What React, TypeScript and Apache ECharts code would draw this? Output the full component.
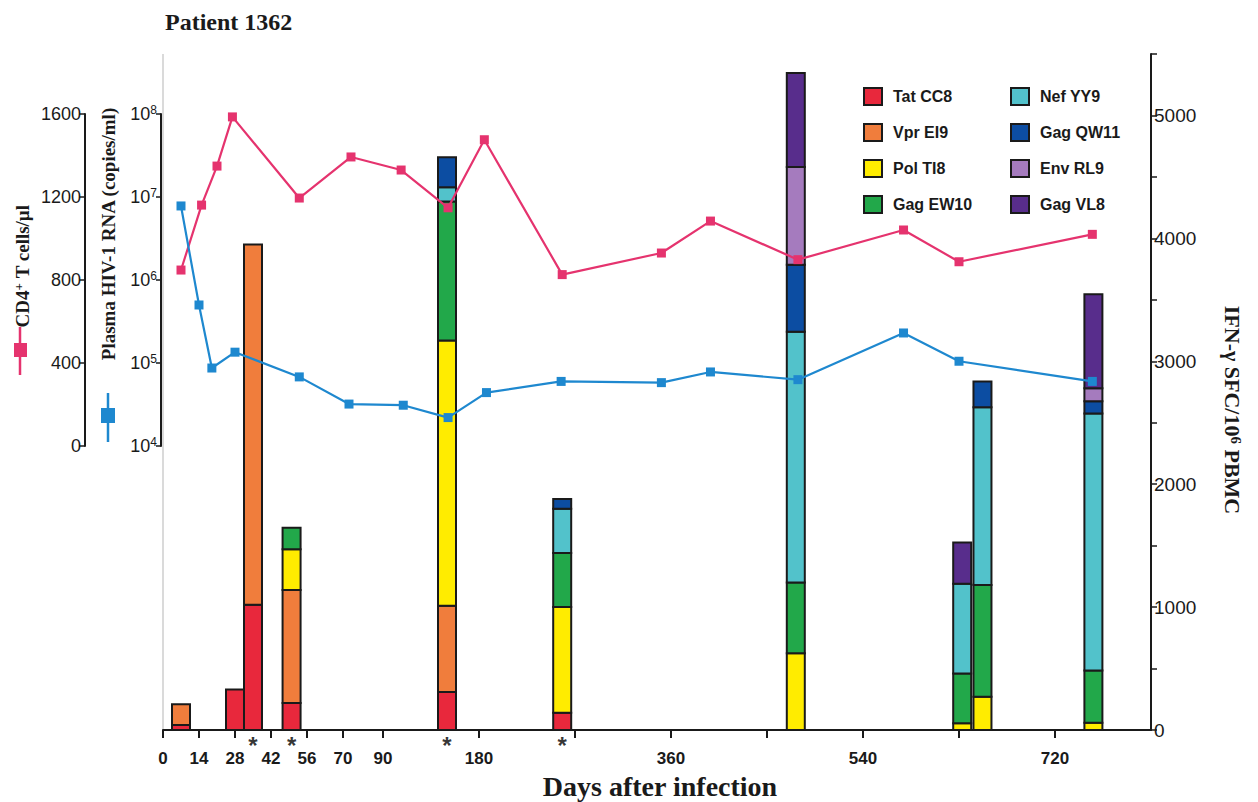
import React, { useEffect, useRef } from 'react';
import * as echarts from 'echarts';

// ---------- data ----------
const barDays = [7, 28, 35, 50, 150, 258, 477, 633, 652, 756];
const tatCC8 = [40, 330, 1020, 220, 310, 140, 0, 0, 0, 0];
const vprEI9 = [170, 0, 2930, 920, 700, 0, 0, 0, 0, 0];
const polTI8 = [0, 0, 0, 330, 2160, 860, 625, 55, 270, 60];
const gagEW10 = [0, 0, 0, 175, 1130, 440, 575, 405, 910, 425];
const nefYY9 = [0, 0, 0, 0, 115, 360, 2040, 730, 1445, 2090];
const gagQW11 = [0, 0, 0, 0, 245, 80, 545, 0, 210, 100];
const envRL9 = [0, 0, 0, 0, 0, 0, 795, 0, 0, 105];
const gagVL8 = [0, 0, 0, 0, 0, 0, 765, 335, 0, 765];

const epitopeNames = ['Tat CC8', 'Vpr EI9', 'Pol TI8', 'Gag EW10', 'Nef YY9', 'Gag QW11', 'Env RL9', 'Gag VL8'];
const epitopeValues = [tatCC8, vprEI9, polTI8, gagEW10, nefYY9, gagQW11, envRL9, gagVL8];
const epitopeColors = ['#E8283C', '#F07D3C', '#FFEC00', '#22A84A', '#52C2CB', '#0C4DA2', '#A57BBE', '#582D8C'];

const cd4Days = [7, 15, 21, 27, 53, 74, 107, 151, 185, 258, 351, 397, 479, 578, 630, 755];
const cd4Values = [848, 1161, 1349, 1586, 1195, 1393, 1330, 1148, 1476, 826, 930, 1084, 898, 1041, 888, 1020];

const rnaDays = [7, 14, 19, 28, 53, 73, 109, 151, 187, 257, 351, 397, 479, 578, 630, 755];
const rnaValues = [7.8e6, 5.0e5, 8.7e4, 1.35e5, 6.8e4, 3.2e4, 3.1e4, 2.2e4, 4.4e4, 6.0e4, 5.8e4, 7.8e4, 6.3e4, 2.3e5, 1.05e5, 6.0e4];

const xTickDays = [0, 14, 28, 42, 56, 70, 90, 180, 270, 360, 450, 540, 630, 720];
const xLabelDays = [0, 14, 28, 42, 56, 70, 90, 180, 360, 540, 720];
const asteriskDays = [35, 50, 150, 258];

// broken (piecewise linear) day axis
const AXIS_KNOT_DAYS = [0, 70, 90, 810];
const AXIS_KNOT_POS = [0, 180, 220, 988];
function dayToPos(d: number): number {
  for (let i = 0; i < AXIS_KNOT_DAYS.length - 1; i++) {
    const a = AXIS_KNOT_DAYS[i], b = AXIS_KNOT_DAYS[i + 1];
    if (d <= b || i === AXIS_KNOT_DAYS.length - 2) {
      return AXIS_KNOT_POS[i] + ((d - a) / (b - a)) * (AXIS_KNOT_POS[i + 1] - AXIS_KNOT_POS[i]);
    }
  }
  return 0;
}

const SANS = '"Liberation Sans", Arial, sans-serif';
const SERIF = '"Liberation Serif", "Times New Roman", serif';
const INK = '#1a1a1a';
const PINK = '#E5336E';
const BLUE = '#1E88CF';

export default function App() {
  const ref = useRef<HTMLDivElement>(null);

  useEffect(() => {
    if (!ref.current) return;
    const chart = echarts.init(ref.current, undefined, { renderer: 'svg' });

    // stacked segments
    const cumulative = barDays.map(() => 0);
    const barSeries = epitopeNames.map((name, k) => {
      const data: number[][] = [];
      epitopeValues[k].forEach((v, i) => {
        if (v > 0) {
          data.push([dayToPos(barDays[i]), cumulative[i], cumulative[i] + v]);
          cumulative[i] += v;
        }
      });
      return {
        name,
        type: 'custom',
        coordinateSystem: 'cartesian2d',
        xAxisIndex: 0,
        yAxisIndex: 0,
        itemStyle: { color: epitopeColors[k] },
        encode: { x: 0, y: [1, 2] },
        data,
        z: 2,
        renderItem: (params: any, api: any) => {
          const x = api.value(0);
          const pb = api.coord([x, api.value(1)]);
          const pt = api.coord([x, api.value(2)]);
          return {
            type: 'rect',
            shape: { x: pb[0] - 9, y: pt[1], width: 18, height: pb[1] - pt[1] },
            style: { fill: api.visual('color'), stroke: INK, lineWidth: 2 },
          };
        },
      };
    });

    const axisLineStyle = { color: INK, width: 2 };
    const legendCommon = {
      orient: 'vertical',
      top: 87,
      itemWidth: 18,
      itemHeight: 17,
      itemGap: 17,
      padding: 0,
      icon: 'rect',
      selectedMode: false,
      itemStyle: { borderColor: INK, borderWidth: 2 },
      textStyle: { fontFamily: SANS, fontWeight: 'bold', fontSize: 16, color: INK, padding: [0, 0, 0, 6] },
    };

    const option: any = {
      animation: false,
      backgroundColor: '#ffffff',
      grid: [
        { left: 163, right: 107, top: 54, bottom: 72 },
        { left: 163, right: 107, top: 114, bottom: 356 },
      ],
      xAxis: [
        {
          gridIndex: 0,
          type: 'value',
          min: 0,
          max: 988,
          splitLine: { show: false },
          axisLine: { show: true, onZero: false, lineStyle: axisLineStyle },
          axisTick: { show: true, length: 8, lineStyle: { color: INK, width: 2 }, customValues: xTickDays.map(dayToPos) },
          axisLabel: {
            customValues: xLabelDays.map(dayToPos),
            margin: 20,
            fontFamily: SANS,
            fontWeight: 'bold',
            fontSize: 17,
            color: INK,
            formatter: (v: number) => {
              const d = xLabelDays.find((dd) => Math.abs(dayToPos(dd) - v) < 0.01);
              return d === undefined ? '' : String(d);
            },
          },
        },
        { gridIndex: 1, type: 'value', min: 0, max: 988, show: false },
      ],
      yAxis: [
        {
          gridIndex: 0,
          type: 'value',
          position: 'right',
          min: 0,
          max: 5500,
          interval: 500,
          splitLine: { show: false },
          axisLine: { show: true, onZero: false, lineStyle: axisLineStyle },
          axisTick: { show: true, length: 6, lineStyle: { color: INK, width: 1.5 } },
          axisLabel: {
            margin: 3,
            fontFamily: SANS,
            fontSize: 19,
            color: INK,
            formatter: (v: number) => (v % 1000 === 0 ? String(v) : ''),
          },
        },
        {
          gridIndex: 1,
          type: 'value',
          position: 'left',
          offset: 78,
          min: 0,
          max: 1600,
          interval: 400,
          splitLine: { show: false },
          axisLine: { show: true, onZero: false, lineStyle: axisLineStyle },
          axisTick: { show: true, length: 6, lineStyle: { color: INK, width: 1.5 } },
          axisLabel: { margin: 4, fontFamily: SANS, fontSize: 18, color: INK, formatter: (v: number) => String(v) },
        },
        {
          gridIndex: 1,
          type: 'log',
          logBase: 10,
          position: 'left',
          offset: 2,
          min: 1e4,
          max: 1e8,
          splitNumber: 4,
          splitLine: { show: false },
          minorTick: { show: false },
          axisLine: { show: true, onZero: false, lineStyle: axisLineStyle },
          axisTick: { show: true, length: 5, lineStyle: { color: INK, width: 1.5 } },
          axisLabel: {
            margin: 4,
            fontFamily: SANS,
            fontSize: 18,
            color: INK,
            formatter: (v: number) => '10{sup|' + Math.round(Math.log10(v)) + '}',
            rich: { sup: { fontSize: 12, fontFamily: SANS, color: INK, verticalAlign: 'top', padding: [0, 0, 8, 0] } },
          },
        },
      ],
      legend: [
        { ...legendCommon, data: epitopeNames.slice(0, 4), left: 863 },
        { ...legendCommon, data: epitopeNames.slice(4), left: 1010 },
      ],
      series: [
        ...barSeries,
        {
          name: 'CD4',
          type: 'line',
          xAxisIndex: 1,
          yAxisIndex: 1,
          data: cd4Days.map((d, i) => [dayToPos(d), cd4Values[i]]),
          symbol: 'rect',
          symbolSize: 9,
          clip: false,
          color: PINK,
          lineStyle: { width: 2.2, color: PINK },
          itemStyle: { color: PINK },
          z: 10,
        },
        {
          name: 'RNA',
          type: 'line',
          xAxisIndex: 1,
          yAxisIndex: 2,
          data: rnaDays.map((d, i) => [dayToPos(d), rnaValues[i]]),
          symbol: 'rect',
          symbolSize: 9,
          clip: false,
          color: BLUE,
          lineStyle: { width: 2.2, color: BLUE },
          itemStyle: { color: BLUE },
          z: 10,
        },
        {
          name: 'asterisks',
          type: 'scatter',
          xAxisIndex: 0,
          yAxisIndex: 0,
          data: asteriskDays.map((d) => [dayToPos(d), 0]),
          symbol: 'rect',
          symbolSize: 1,
          itemStyle: { color: 'rgba(0,0,0,0)' },
          label: {
            show: true,
            position: 'bottom',
            distance: 3,
            formatter: '*',
            fontFamily: SANS,
            fontWeight: 'bold',
            fontSize: 24,
            color: '#000',
          },
          z: 3,
        },
      ],
      graphic: [
        { type: 'line', shape: { x1: 163, y1: 54, x2: 163, y2: 730 }, style: { stroke: '#b5b5b5', lineWidth: 1 }, z: -1 },
        {
          type: 'text',
          x: 165,
          y: 22,
          style: { text: 'Patient 1362', fontFamily: SERIF, fontWeight: 'bold', fontSize: 24, fill: INK, textAlign: 'left', textVerticalAlign: 'middle' },
        },
        {
          type: 'text',
          x: 660,
          y: 786,
          style: { text: 'Days after infection', fontFamily: SERIF, fontWeight: 'bold', fontSize: 28, fill: INK, textAlign: 'center', textVerticalAlign: 'middle' },
        },
        {
          type: 'text',
          x: 1232,
          y: 410,
          rotation: -Math.PI / 2,
          style: {
            text: 'IFN-γ SFC/10{sup|6} PBMC',
            fontFamily: SERIF,
            fontWeight: 'bold',
            fontSize: 22,
            fill: INK,
            textAlign: 'center',
            textVerticalAlign: 'middle',
            rich: { sup: { fontFamily: SERIF, fontWeight: 'bold', fontSize: 15, fill: INK, verticalAlign: 'top', padding: [0, 0, 8, 0] } },
          },
        },
        {
          type: 'text',
          x: 108,
          y: 234,
          rotation: Math.PI / 2,
          style: { text: 'Plasma HIV-1 RNA (copies/ml)', fontFamily: SERIF, fontWeight: 'bold', fontSize: 19, fill: INK, textAlign: 'center', textVerticalAlign: 'middle' },
        },
        {
          type: 'text',
          x: 22,
          y: 266,
          rotation: Math.PI / 2,
          style: {
            text: 'CD4{sup|+} T cells/µl',
            fontFamily: SERIF,
            fontWeight: 'bold',
            fontSize: 19,
            fill: INK,
            textAlign: 'center',
            textVerticalAlign: 'middle',
            rich: { sup: { fontFamily: SERIF, fontWeight: 'bold', fontSize: 13, fill: INK, verticalAlign: 'top', padding: [0, 0, 8, 0] } },
          },
        },
        { type: 'line', shape: { x1: 20, y1: 327, x2: 20, y2: 375 }, style: { stroke: PINK, lineWidth: 2.5 } },
        { type: 'rect', shape: { x: 14, y: 343, width: 13, height: 14 }, style: { fill: PINK } },
        { type: 'line', shape: { x1: 108, y1: 393, x2: 108, y2: 442 }, style: { stroke: BLUE, lineWidth: 2.5 } },
        { type: 'rect', shape: { x: 101, y: 408, width: 14, height: 15 }, style: { fill: BLUE } },
      ],
    };

    chart.setOption(option);
    return () => {
      chart.dispose();
    };
  }, []);

  return <div ref={ref} style={{ position: 'fixed', left: 0, top: 0, width: 1258, height: 802, background: '#fff' }} />;
}
